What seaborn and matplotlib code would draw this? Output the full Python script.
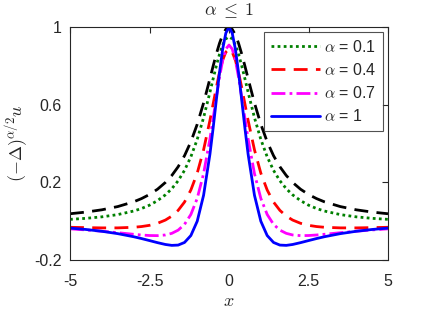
import numpy as np
import pandas as pd
import matplotlib
matplotlib.use('Agg')
import matplotlib.pyplot as plt
import seaborn as sns

# x positions (symmetric about 0)
x_half = [0, 0.1, 0.2, 0.3, 0.4, 0.5, 0.6, 0.8, 1.0, 1.2, 1.4, 1.6, 1.8, 2.0,
          2.25, 2.5, 2.75, 3.0, 3.5, 4.0, 4.5, 5.0]

# values read for x >= 0 (curves are even in x)
u0 = [1.0, 0.9901, 0.9615, 0.9174, 0.8621, 0.8, 0.7353, 0.6098, 0.5, 0.4098,
      0.3378, 0.2809, 0.2358, 0.2, 0.1649, 0.1379, 0.1168, 0.1, 0.0755, 0.0588,
      0.0471, 0.0385]
a01 = [0.9514, 0.9405, 0.9092, 0.8611, 0.8011, 0.7344, 0.6655, 0.5341, 0.4220,
       0.3322, 0.2622, 0.2086, 0.1676, 0.1360, 0.1061, 0.0827, 0.0656, 0.0525,
       0.0341, 0.0225, 0.0148, 0.0095]
a04 = [0.8873, 0.8725, 0.8305, 0.7667, 0.6889, 0.6045, 0.5203, 0.3681, 0.2480,
       0.1609, 0.0987, 0.0559, 0.0263, 0.0060, -0.0108, -0.0212, -0.0275,
       -0.0313, -0.0344, -0.0344, -0.0331, -0.0313]
a07 = [0.9086, 0.8881, 0.8298, 0.7429, 0.6391, 0.5300, 0.4249, 0.2454, 0.1177,
       0.0347, -0.0163, -0.0461, -0.0626, -0.0709, -0.0744, -0.0738, -0.0711,
       -0.0674, -0.0592, -0.0516, -0.0450, -0.0394]
a10 = [1.0, 0.9705, 0.8876, 0.7659, 0.6243, 0.48, 0.3460, 0.1338, 0.0,
       -0.0739, -0.1096, -0.1231, -0.1246, -0.12, -0.1105, -0.0999, -0.0895,
       -0.08, -0.0641, -0.0519, -0.0426, -0.0355]

x = [-v for v in x_half[:0:-1]] + x_half


def full(h):
    return h[:0:-1] + h


series = [
    ('_nolegend_', full(u0), 'black', (0, (5, 3))),
    (r'$\alpha$ = 0.1', full(a01), 'green', (0, (1, 1.2))),
    (r'$\alpha$ = 0.4', full(a04), 'red', (0, (5, 3))),
    (r'$\alpha$ = 0.7', full(a07), 'magenta', (0, (5, 1.5, 1, 1.5))),
    (r'$\alpha$ = 1', full(a10), 'blue', '-'),
]

sns.set_theme(style='white')
plt.rcParams['font.family'] = ['Liberation Sans', 'DejaVu Sans']
plt.rcParams['mathtext.fontset'] = 'cm'
plt.rcParams['axes.unicode_minus'] = False

fig = plt.figure(figsize=(4.28, 3.14), dpi=100)
ax = fig.add_axes([0.1636, 0.172, 0.743, 0.741])

for lab, y, c, ls in series:
    df = pd.DataFrame({'x': x, 'y': y})
    sns.lineplot(data=df, x='x', y='y', color=c, linestyle=ls, linewidth=2.0,
                 label=lab, ax=ax, legend=False)

ax.set_xlim(-5, 5)
ax.set_ylim(-0.2, 1)
ax.set_xticks([-5, -2.5, 0, 2.5, 5])
ax.set_xticklabels(['-5', '-2.5', '0', '2.5', '5'])
ax.set_yticks([-0.2, 0.2, 0.6, 1])
ax.set_yticklabels(['-0.2', '0.2', '0.6', '1'])
ax.tick_params(direction='in', length=4, width=0.8, top=True, right=True,
               labelsize=11.5, colors='#262626', pad=6)
ax.tick_params(axis='x', pad=10)
for s in ax.spines.values():
    s.set_color('#262626')
    s.set_linewidth(0.8)

ax.set_xlabel(r'$x$', fontsize=13, labelpad=3)
ax.set_ylabel(r'$(-\Delta)^{\alpha/2}u$', fontsize=13, labelpad=2)
ax.set_title(r'$\alpha\;\leq\;1$', fontsize=13, pad=9)

handles, labels = ax.get_legend_handles_labels()
leg = ax.legend(handles, labels, loc='upper right', fontsize=11.5,
                handlelength=3.1, handletextpad=0.25, labelspacing=0.45,
                borderpad=0.4, borderaxespad=0, frameon=True, fancybox=False,
                bbox_to_anchor=(0.984, 0.978))
leg.get_frame().set_edgecolor('#262626')
leg.get_frame().set_linewidth(0.8)

fig.savefig('out.png', dpi=100)
